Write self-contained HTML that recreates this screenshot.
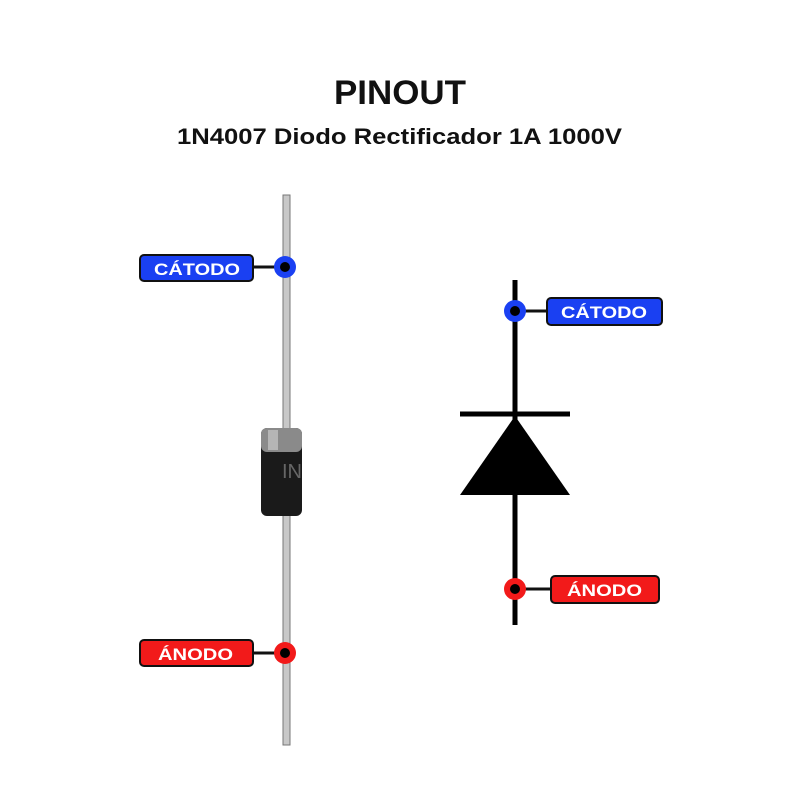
<!DOCTYPE html>
<html><head><meta charset="utf-8"><style>
body{margin:0;background:#fff;width:800px;height:800px;overflow:hidden;font-family:"Liberation Sans",sans-serif}
</style></head><body>
<svg width="800" height="800" xmlns="http://www.w3.org/2000/svg">
<text x="334" y="104" textLength="132" lengthAdjust="spacingAndGlyphs" font-size="34" font-weight="bold" fill="#111">PINOUT</text>
<text x="177" y="144" textLength="445" lengthAdjust="spacingAndGlyphs" font-size="22" font-weight="bold" fill="#111">1N4007 Diodo Rectificador 1A 1000V</text>
<!-- leads -->
<rect x="283" y="195" width="7" height="235" fill="#c8c8c8" stroke="#777" stroke-width="1"/>
<rect x="283" y="510" width="7" height="235" fill="#c8c8c8" stroke="#777" stroke-width="1"/>
<!-- body -->
<rect x="261" y="428" width="41" height="88" rx="6" fill="#1a1a1a"/>
<rect x="261" y="428" width="41" height="24" rx="6" fill="#8a8a8a"/>
<rect x="268" y="430" width="10" height="20" fill="#b5b5b5"/>
<text x="282" y="478" font-size="20" fill="#666">IN</text>
<!-- left labels -->
<line x1="253" y1="267" x2="284" y2="267" stroke="#111" stroke-width="3"/>
<rect x="140" y="255" width="113" height="26" rx="4" fill="#1a40f2" stroke="#111" stroke-width="2"/>
<text x="154" y="275" textLength="86" lengthAdjust="spacingAndGlyphs" font-size="17" font-weight="bold" fill="#fff">CÁTODO</text>
<circle cx="285" cy="267" r="11" fill="#1a40f2"/><circle cx="285" cy="267" r="5" fill="#000"/>
<line x1="253" y1="653" x2="284" y2="653" stroke="#111" stroke-width="3"/>
<rect x="140" y="640" width="113" height="26" rx="4" fill="#f21a1a" stroke="#111" stroke-width="2"/>
<text x="158" y="660" textLength="75" lengthAdjust="spacingAndGlyphs" font-size="17" font-weight="bold" fill="#fff">ÁNODO</text>
<circle cx="285" cy="653" r="11" fill="#f21a1a"/><circle cx="285" cy="653" r="5" fill="#000"/>
<!-- symbol -->
<line x1="515" y1="280" x2="515" y2="625" stroke="#000" stroke-width="5"/>
<line x1="460" y1="414" x2="570" y2="414" stroke="#000" stroke-width="5"/>
<polygon points="515,416 460,495 570,495" fill="#000"/>
<line x1="515" y1="311" x2="547" y2="311" stroke="#111" stroke-width="3"/>
<rect x="547" y="298" width="115" height="27" rx="4" fill="#1a40f2" stroke="#111" stroke-width="2"/>
<text x="561" y="318" textLength="86" lengthAdjust="spacingAndGlyphs" font-size="17" font-weight="bold" fill="#fff">CÁTODO</text>
<circle cx="515" cy="311" r="11" fill="#1a40f2"/><circle cx="515" cy="311" r="5" fill="#000"/>
<line x1="515" y1="589" x2="551" y2="589" stroke="#111" stroke-width="3"/>
<rect x="551" y="576" width="108" height="27" rx="4" fill="#f21a1a" stroke="#111" stroke-width="2"/>
<text x="567" y="596" textLength="75" lengthAdjust="spacingAndGlyphs" font-size="17" font-weight="bold" fill="#fff">ÁNODO</text>
<circle cx="515" cy="589" r="11" fill="#f21a1a"/><circle cx="515" cy="589" r="5" fill="#000"/>
</svg>
</body></html>
